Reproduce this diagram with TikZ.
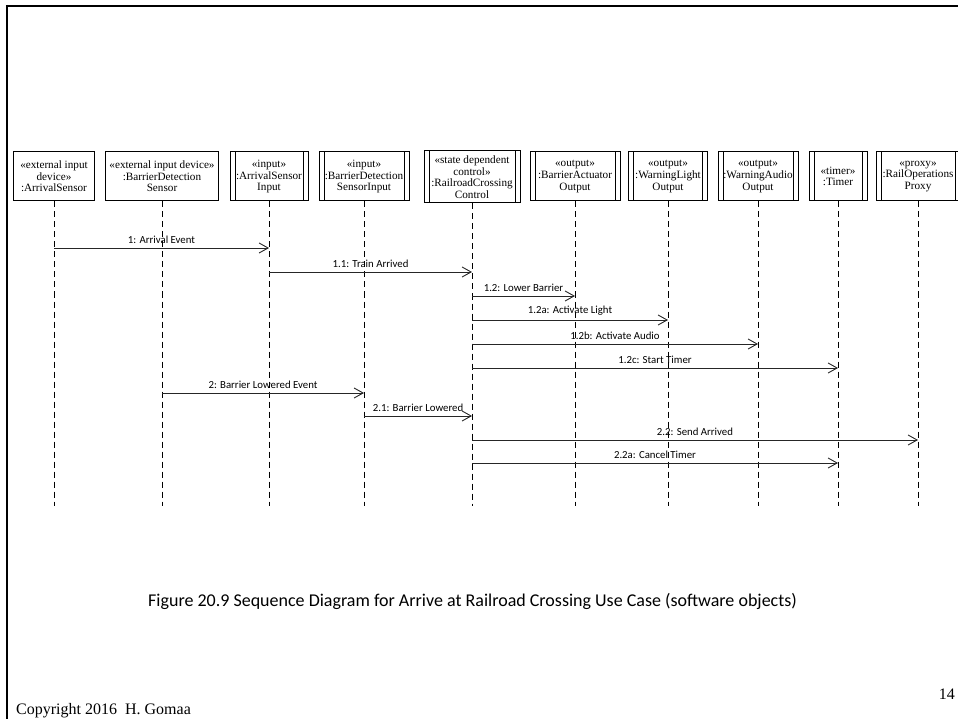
\documentclass[tikz,border=0pt]{standalone}
\usepackage{fontspec}
\setmainfont{Liberation Serif}
\newfontfamily\msgfont{Carlito}
\usetikzlibrary{arrows.meta}

\tikzset{
  objbox/.style={draw, line width=1pt, fill=white, align=center, inner sep=0pt,
    minimum height=49pt, font=\fontsize{11.2}{11.6}\selectfont},
  barbox/.style={objbox, path picture={
    \draw[line width=1pt] ([xshift=5pt]path picture bounding box.north west) -- ([xshift=5pt]path picture bounding box.south west);
    \draw[line width=1pt] ([xshift=-5pt]path picture bounding box.north east) -- ([xshift=-5pt]path picture bounding box.south east);}},
  lifeline/.style={line width=0.9pt, dash pattern=on 6pt off 4pt},
  msg/.style={line width=0.9pt, black!85, -{Straight Barb[length=9pt,width=10pt]}},
  lbl/.style={above, inner sep=0pt, yshift=4pt, text=black, font=\msgfont\fontsize{10.8}{12}\selectfont},
  frameline/.style={line width=2.5pt},
}

\begin{document}
\begin{tikzpicture}[x=1pt, y=-1pt]
\useasboundingbox (0,0) rectangle (958,719);

% slide frame
\draw[frameline] (5.8,6) -- (958,6);
\draw[frameline] (7,4.8) -- (7,719);

% objects
\node[objbox, minimum width=81pt]  (b1)  at (54,176.5)  {«external input\\device»\\:ArrivalSensor};
\node[objbox, minimum width=113pt] (b2)  at (162,176.5) {«external input device»\\:BarrierDetection\\Sensor};
\node[barbox, minimum width=78pt]  (b3)  at (269,176.5) {«input»\\:ArrivalSensor\\Input};
\node[barbox, minimum width=90pt]  (b4)  at (364,176.5) {«input»\\:BarrierDetection\\SensorInput};
\node[barbox, minimum width=96pt, minimum height=52pt] (b5) at (472,177) {«state dependent\\control»\\:RailroadCrossing\\Control};
\node[barbox, minimum width=90pt]  (b6)  at (575,176.5) {«output»\\:BarrierActuator\\Output};
\node[barbox, minimum width=79pt]  (b7)  at (668,176.5) {«output»\\:WarningLight\\Output};
\node[barbox, minimum width=80pt]  (b8)  at (758,176.5) {«output»\\:WarningAudio\\Output};
\node[barbox, minimum width=58pt]  (b9)  at (838,176.5) {«timer»\\:Timer};
\node[barbox, minimum width=84pt]  (b10) at (918,176.5) {«proxy»\\:RailOperations\\Proxy};

% lifelines
\foreach \i in {1,...,10} {
  \coordinate (e\i) at (b\i.south |- 0,506);
  \draw[lifeline] (b\i.south) -- (e\i);
}

% messages
\draw[msg] (b1.south |- 0,248) -- node[lbl] {1: Arrival Event} (b3.south |- 0,248);
\draw[msg] (b3.south |- 0,272) -- node[lbl] {1.1: Train Arrived} (b5.south |- 0,272);
\draw[msg] (b5.south |- 0,296) -- node[lbl] {1.2: Lower Barrier} (b6.south |- 0,296);
\draw[msg] (b5.south |- 0,320) -- node[lbl] {1.2a: Activate Light} (b7.south |- 0,320);
\draw[msg] (b5.south |- 0,344) -- node[lbl] {1.2b: Activate Audio} (b8.south |- 0,344);
\draw[msg] (b5.south |- 0,368) -- node[lbl] {1.2c: Start Timer} (b9.south |- 0,368);
\draw[msg] (b2.south |- 0,393) -- node[lbl] {2: Barrier Lowered Event} (b4.south |- 0,393);
\draw[msg] (b4.south |- 0,416) -- node[lbl] {2.1: Barrier Lowered} (b5.south |- 0,416);
\draw[msg] (b5.south |- 0,440) -- node[lbl] {2.2: Send Arrived} (b10.south |- 0,440);
\draw[msg] (b5.south |- 0,463) -- node[lbl] {2.2a: Cancel Timer} (b9.south |- 0,463);

% caption, footer, page number
\node[anchor=base west, inner sep=0pt, font=\msgfont\fontsize{18}{21}\selectfont] (cap) at (148,606)
  {Figure 20.9 Sequence Diagram for Arrive at Railroad Crossing Use Case (software objects)};
\node[anchor=base west, inner sep=0pt, font=\fontsize{16}{19}\selectfont] (copy) at (16,714) {Copyright 2016\ \ H. Gomaa};
\node[anchor=base east, inner sep=0pt, font=\fontsize{16}{19}\selectfont] (page) at (955,699) {14};
\end{tikzpicture}
\end{document}
